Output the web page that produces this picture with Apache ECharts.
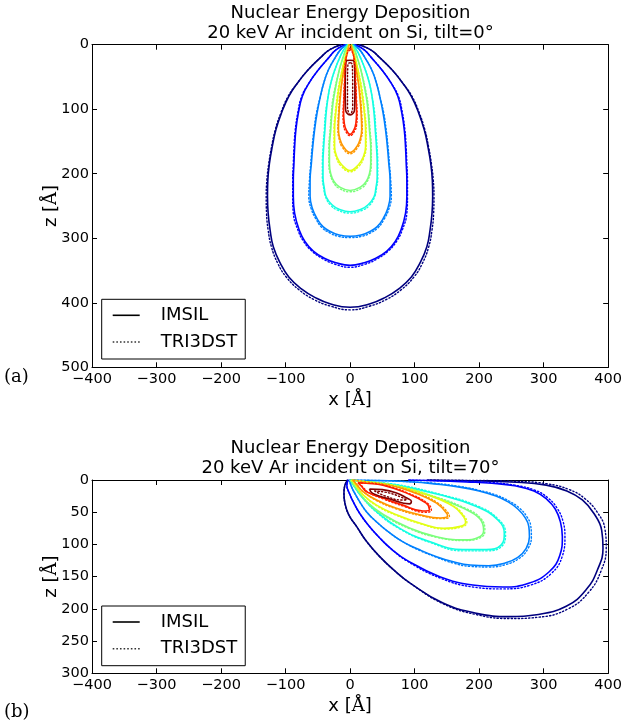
<!DOCTYPE html>
<html>
<head>
<meta charset="utf-8">
<script src="https://cdn.jsdelivr.net/npm/echarts@6/dist/echarts.min.js"></script>
<style>
  html, body { margin: 0; padding: 0; background: #fff; }
  #chart { width: 625px; height: 726px; }
</style>
</head>
<body>
<div id="chart"></div>
<script>
// Axis ticks
const xTicks = [-400, -300, -200, -100, 0, 100, 200, 300, 400];
const zTicksTilt0 = [0, 100, 200, 300, 400, 500];
const zTicksTilt70 = [0, 50, 100, 150, 200, 250, 300];

// Jet colours of the nine contour levels, lowest (outermost) level first
const levelColors = ['#00007f', '#0000ff', '#0080ff', '#14ffe2', '#7bff7b', '#e2ff14', '#ff9700', '#ff2100', '#7f0000'];

// Tilt 0°: every contour is symmetric about x = 0, stored as [depth z, half-width] in Å
const imsilTilt0 = [
  [[0,14],[8,32],[20,46],[40,66],[60,82],[80,95],[105,106],[132,115],[160,121],[184,125],[210,127.5],[235,128],[261,127],[287,124],[313,119],[339,108],[360,95],[378,76],[392,54],[402,30],[407,0]],
  [[0,8],[8,22],[20,33],[40,50],[60,64],[80,74],[105,80],[132,84],[160,86],[184,87],[210,88],[235,88],[261,86],[287,79],[305,70],[320,57],[331,40],[338,22],[342,0]],
  [[0,6],[8,15],[20,23],[40,34],[60,41],[80,46],[105,51],[132,55],[160,58],[184,60],[210,62],[235,62],[255,58],[270,51],[282,42],[290,30],[295,17],[297,0]],
  [[0,4],[8,10],[20,16],[40,24],[60,30],[80,34],[105,37],[132,39],[160,41],[184,42],[205,42],[222,40],[236,37],[248,28],[255,17],[259,0]],
  [[0,3],[8,7],[20,11],[40,17],[80,25],[105,28],[132,30],[160,32],[184,32],[200,30],[212,25],[220,17],[226,0]],
  [[0,2],[10,5],[29,10],[60,16],[80,19],[105,22],[132,24],[158,24],[175,20],[186,13],[195,0]],
  [[0,1.5],[10,4],[29,8],[60,13],[80,15],[105,17],[132,18],[145,16],[157,11],[167,0]],
  [[5,0],[8,3],[13,5],[19,6],[55,8],[80,9],[106,10],[122,9],[132,6],[139,0]],
  [[24,0],[24.5,5],[30,7],[70,7.5],[100,7],[106,5],[109,0]]
];
const tri3dstTilt0 = [
  [[0,14],[8,32],[20,46],[40,66],[60,82],[80,96],[105,107],[132,116],[160,122],[184,126],[210,129],[235,130],[261,129.5],[287,127],[313,122],[339,112],[360,99],[380,79],[395,56],[405,31],[411,0]],
  [[0,8],[8,22],[20,33],[40,50],[60,64],[80,75],[105,81],[132,85],[160,87],[184,88],[210,89],[235,89],[261,88],[287,81],[305,72],[320,59],[332,42],[340,24],[345,0]],
  [[0,6],[8,15],[20,23],[40,34],[60,41],[80,46],[105,52],[132,56],[160,59],[184,61],[210,63],[235,64],[255,60],[270,53],[283,44],[292,31],[297,18],[299,0]],
  [[0,4],[8,10],[20,16],[40,24],[60,30],[80,34],[105,38],[132,40],[160,42],[184,43],[205,43],[222,41],[236,38],[249,30],[257,18],[261,0]],
  [[0,3],[8,7],[20,11],[40,17],[80,26],[105,29],[132,31],[160,33],[184,33],[200,31],[213,26],[222,18],[228,0]],
  [[0,2],[10,5],[29,10],[60,17],[80,20],[105,23],[132,25],[158,25],[176,21],[188,14],[197,0]],
  [[0,1.5],[10,4],[29,8],[60,13],[80,16],[105,18],[132,19],[146,17],[159,12],[169,0]],
  [[8,0],[11,3],[16,5],[25,7],[60,9],[85,10],[110,11],[125,10],[134,7],[141,0]],
  [[28,0],[29,2.5],[34,3.5],[60,4],[95,4],[103,3],[108,0]]
];

// Tilt 70°: contour outlines as [x, z] in Å
const imsilTilt70 = [
  [[-4,0],[-8,8],[-9.5,20],[-8,36],[-2,54],[10,72],[26,96],[46,119],[68,140],[93,160],[144,191],[196,207],[247,212],[289,209],[335,196],[366,170],[384,138],[392,106],[390,78],[378,52],[360,31],[336,17],[304,8],[258,3.5],[175,1],[120,0]],
  [[-3,0],[-5,8],[-1,21],[6,36],[15,52],[29,71],[46,90],[65,108],[87,124],[139,150],[190,163],[237,166],[278,160],[309,142],[325,117],[329,88],[326,65],[318,45],[305,30],[285,17],[255,9],[220,5],[180,3],[130,1],[90,0]],
  [[-1,0],[2,10],[8,22],[15,34],[26,50],[41,65],[60,81],[82,96],[107,108],[134,119],[160,127],[186,132],[215,133],[240,129],[260,120],[273,106],[278,88],[277,72],[271,58],[260,45],[245,34],[226,25],[200,17],[170,11],[130,6],[98,3],[50,1],[-1,0]],
  [[0,0],[5,8],[18,26],[41,49],[77,75],[124,96],[175,108],[211,108],[234,101],[239,83],[229,62],[196,41],[139,23],[72,8],[20,2],[0,0]],
  [[0,0],[9,13],[26,34],[52,54],[93,75],[134,88],[176,93],[201,88],[207,78],[201,60],[176,44],[129,26],[72,9],[20,2],[0,0]],
  [[2,0],[9,9],[20,23],[41,39],[72,54],[109,67],[145,75],[171,72],[179,66],[176,57],[160,41],[119,23],[67,9],[20,2],[2,0]],
  [[4,0],[11,8],[20,18],[41,31],[72,44],[108,54],[140,59],[151,56],[150,52],[134,36],[103,21],[62,8],[25,3],[4,0]],
  [[12,4],[18,10],[25,18],[51,28],[82,39],[113,48],[123,46],[118,36],[87,20],[51,8],[25,5],[12,4]],
  [[30,14],[50,15],[72,20],[88,28],[95,33],[92,37],[63,30],[35,21],[30,14]]
];
const tri3dstTilt70 = [
  [[-4,0],[-8,8],[-9.5,20],[-8,36],[-2,54],[10,72],[26,96],[46,119],[68,140],[93,160],[144,192],[196,209],[247,215],[292,213],[338,200],[370,174],[389,141],[397,106],[395,76],[383,50],[364,29],[340,15],[306,6],[258,2],[175,0.5],[120,0]],
  [[-3,0],[-5,8],[-1,21],[6,36],[15,52],[29,71],[46,90],[65,108],[87,125],[139,152],[190,166],[237,169],[280,163],[312,145],[329,118],[333,88],[330,64],[321,44],[307,28],[287,16],[255,8],[220,4],[180,2],[130,1],[90,0]],
  [[-1,0],[2,10],[8,22],[15,34],[26,50],[41,65],[60,81],[82,96],[107,109],[134,120],[160,129],[186,134],[216,135],[242,131],[263,121],[276,106],[281,88],[280,71],[274,57],[263,44],[247,33],[228,24],[200,16],[170,10],[130,5],[98,3],[50,1],[-1,0]],
  [[0,0],[5,8],[18,26],[41,50],[77,76],[124,97],[175,110],[212,110],[236,102],[241,83],[230,61],[197,40],[139,22],[72,7],[20,2],[0,0]],
  [[0,0],[9,13],[26,34],[52,55],[93,76],[134,89],[177,94],[203,89],[209,78],[202,59],[177,43],[129,25],[72,9],[20,2],[0,0]],
  [[2,0],[9,9],[20,23],[41,40],[72,55],[109,68],[146,76],[173,73],[181,66],[177,56],[160,40],[119,22],[67,8],[20,2],[2,0]],
  [[4,0],[11,8],[20,18],[41,32],[72,45],[108,55],[141,60],[154,57],[152,51],[135,35],[103,20],[62,8],[25,3],[4,0]],
  [[14,5],[20,11],[28,19],[53,30],[84,41],[115,50],[126,47],[120,36],[89,20],[52,8],[26,5],[14,5]],
  [[38,17],[60,20],[80,27],[88,31],[80,31],[55,25],[38,17]]
];

const FONT = 'DejaVu Sans';

// Mirror a [z, half-width] profile into a full outline around x = 0
function mirrorProfile(profile) {
  const left = profile.map(([z, h]) => [-h, z]);
  let right = profile.slice().reverse().map(([z, h]) => [h, z]);
  if (profile[profile.length - 1][1] === 0) right = right.slice(1);
  return left.concat(right);
}

function contourSeries(outlines, grid, dotted) {
  return outlines.map((pts, i) => ({
    type: 'line',
    name: dotted ? 'TRI3DST' : 'IMSIL',
    xAxisIndex: grid * 2,
    yAxisIndex: grid * 2,
    data: pts,
    symbol: 'none',
    smooth: 0.45,
    silent: true,
    animation: false,
    lineStyle: dotted
      ? { color: levelColors[i], width: 1.4, type: [1.3, 2.2], cap: 'round' }
      : { color: levelColors[i], width: 1.6 },
    z: dotted ? 4 : 3
  }));
}

const fmtX = v => (v < 0 ? '\u2212' + Math.abs(v) : String(v));

function axesFor(grid, zTicks) {
  const tick = { inside: true, length: 5, lineStyle: { color: '#000', width: 1 } };
  const line = { show: true, onZero: false, lineStyle: { color: '#000', width: 1 } };
  const nameStyle = { color: '#000', fontSize: 18, fontFamily: FONT,
    rich: { s: { fontSize: 18, fontFamily: 'DejaVu Serif', color: '#000' } } };
  const xs = [
    {
      type: 'value', gridIndex: grid, position: 'bottom',
      min: xTicks[0], max: xTicks[xTicks.length - 1], interval: xTicks[1] - xTicks[0],
      axisLine: line, axisTick: tick, splitLine: { show: false },
      axisLabel: { color: '#000', fontSize: 14.5, fontFamily: FONT, margin: 4, formatter: fmtX },
      name: 'x [{s|Å}]', nameLocation: 'middle', nameGap: 24, nameMoveOverlap: false,
      nameTextStyle: nameStyle
    },
    {
      type: 'value', gridIndex: grid, position: 'top',
      min: xTicks[0], max: xTicks[xTicks.length - 1], interval: xTicks[1] - xTicks[0],
      axisLine: line, axisTick: tick, splitLine: { show: false }, axisLabel: { show: false }
    }
  ];
  const ys = [
    {
      type: 'value', gridIndex: grid, position: 'left', inverse: true,
      min: zTicks[0], max: zTicks[zTicks.length - 1], interval: zTicks[1] - zTicks[0],
      axisLine: line, axisTick: tick, splitLine: { show: false },
      axisLabel: { color: '#000', fontSize: 14.5, fontFamily: FONT, margin: 3 },
      name: 'z [{s|Å}]', nameLocation: 'middle', nameGap: 32, nameMoveOverlap: false,
      nameTextStyle: nameStyle
    },
    {
      type: 'value', gridIndex: grid, position: 'right', inverse: true,
      min: zTicks[0], max: zTicks[zTicks.length - 1], interval: zTicks[1] - zTicks[0],
      axisLine: line, axisTick: tick, splitLine: { show: false }, axisLabel: { show: false }
    }
  ];
  return { xs, ys };
}

const a0 = axesFor(0, zTicksTilt0);
const a1 = axesFor(1, zTicksTilt70);

// Legend keys: a solid bar and a row of dots, both black
const solidKey = 'path://M0,0H27V1.6H0Z';
const dottedKey = 'path://M0,0h1.6v1.6h-1.6z M3.63,0h1.6v1.6h-1.6z M7.26,0h1.6v1.6h-1.6z M10.89,0h1.6v1.6h-1.6z ' +
  'M14.51,0h1.6v1.6h-1.6z M18.14,0h1.6v1.6h-1.6z M21.77,0h1.6v1.6h-1.6z M25.4,0h1.6v1.6h-1.6z';

const legendBase = {
  orient: 'vertical',
  data: [
    { name: 'IMSIL', icon: solidKey, itemStyle: { color: '#000', borderWidth: 0 } },
    { name: 'TRI3DST', icon: dottedKey, itemStyle: { color: '#000', borderWidth: 0, opacity: 0.8 } }
  ],
  selectedMode: false,
  backgroundColor: '#fff',
  borderColor: '#000',
  borderWidth: 1,
  borderRadius: 0,
  padding: [6, 8, 7, 11],
  itemGap: 6.7,
  itemWidth: 27,
  itemHeight: 1.6,
  symbolKeepAspect: false,
  textStyle: { color: '#000', fontSize: 18, fontFamily: FONT, lineHeight: 20, padding: [0, 0, 0, 16] }
};

// Series that carry the legend entries
const legendKeys = [
  { type: 'line', name: 'IMSIL', data: [], symbol: 'none', xAxisIndex: 0, yAxisIndex: 0,
    lineStyle: { color: '#000', width: 1.6 }, itemStyle: { color: '#000' } },
  { type: 'line', name: 'TRI3DST', data: [], symbol: 'none', xAxisIndex: 0, yAxisIndex: 0,
    lineStyle: { color: '#000', width: 1.4, type: [1.3, 2.2] }, itemStyle: { color: '#000' } }
];

const titleStyle = { fill: '#000', font: '18px "DejaVu Sans"', align: 'center', verticalAlign: 'middle' };

const option = {
  animation: false,
  backgroundColor: '#fff',
  grid: [
    { left: 92, top: 44.7, width: 517, height: 322.6 },
    { left: 92, top: 480, width: 517, height: 193.3 }
  ],
  xAxis: [...a0.xs, ...a1.xs],
  yAxis: [...a0.ys, ...a1.ys],
  legend: [
    Object.assign({}, legendBase, { left: 101.7, top: 299.3 }),
    Object.assign({}, legendBase, { left: 101.7, top: 606 })
  ],
  graphic: [
    { type: 'text', x: 350.5, y: 13, style: Object.assign({ text: 'Nuclear Energy Deposition' }, titleStyle) },
    { type: 'text', x: 350.5, y: 33, style: Object.assign({ text: '20 keV Ar incident on Si, tilt=0°' }, titleStyle) },
    { type: 'text', x: 350.5, y: 448, style: Object.assign({ text: 'Nuclear Energy Deposition' }, titleStyle) },
    { type: 'text', x: 350.5, y: 468, style: Object.assign({ text: '20 keV Ar incident on Si, tilt=70°' }, titleStyle) },
    { type: 'text', x: 4, y: 377, style: { text: '(a)', fill: '#000', font: '18px "DejaVu Serif"', verticalAlign: 'middle' } },
    { type: 'text', x: 4, y: 712, style: { text: '(b)', fill: '#000', font: '18px "DejaVu Serif"', verticalAlign: 'middle' } }
  ],
  series: [
    ...legendKeys,
    ...contourSeries(imsilTilt0.map(mirrorProfile), 0, false),
    ...contourSeries(tri3dstTilt0.map(mirrorProfile), 0, true),
    ...contourSeries(imsilTilt70, 1, false),
    ...contourSeries(tri3dstTilt70, 1, true)
  ]
};

const chart = echarts.init(document.getElementById('chart'), null, { renderer: 'canvas' });
chart.setOption(option);
</script>
</body>
</html>
